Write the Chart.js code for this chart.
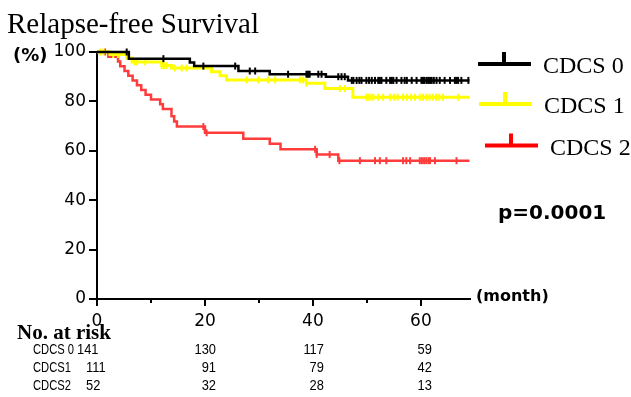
<!DOCTYPE html>
<html><head><meta charset="utf-8">
<script src="https://cdn.jsdelivr.net/npm/chart.js@4/dist/chart.umd.min.js"></script>
<style>html,body{margin:0;padding:0;background:#fff;overflow:hidden}#wrap{width:631px;height:397px;position:relative}</style>
</head><body><div id="wrap"><canvas id="c" width="631" height="397"></canvas></div>
<script>
// ---- data ----
const seriesNames = ['CDCS 0', 'CDCS 1', 'CDCS 2'];
const xTickValues = [0, 20, 40, 60];
const yTickValues = [0, 20, 40, 60, 80, 100];

// Kaplan-Meier step vertices (month, % surviving after event)
const cdcs0Times = [0, 5.9, 17.2, 18.0, 26.2, 32.0, 42.4, 46.5, 69];
const cdcs0Surv  = [100, 97.3, 95.7, 94.3, 92.3, 91.0, 90.0, 88.5, 88.5];
const cdcs1Times = [0, 2.4, 5.5, 6.5, 12.0, 13.8, 21.2, 22.8, 24.0, 38.8, 42.2, 47.4, 69];
const cdcs1Surv  = [100, 99.0, 97.6, 96.0, 94.5, 93.5, 92.0, 90.4, 88.7, 87.3, 85.2, 81.7, 81.7];
const cdcs2Times = [0, 2.1, 3.9, 4.3, 5.1, 5.8, 6.6, 7.4, 8.2, 9.0, 10.0, 11.7, 12.2, 13.8, 14.3, 14.8, 20.0, 27.1, 32.0, 34.0, 40.7, 44.7, 69];
const cdcs2Surv  = [100, 98.1, 96.2, 94.2, 92.3, 90.4, 88.5, 86.5, 84.6, 82.7, 80.8, 78.8, 76.9, 74.0, 71.9, 69.8, 67.3, 64.9, 62.9, 60.6, 58.5, 56.0, 56.0];

// censored observation times (months)
const cdcs0Censor = [5.5, 12.3, 19.7, 25.6, 28.3, 29.3, 35.4, 38.8, 39.1, 39.4, 41.0, 41.6, 44.7, 45.3, 45.9, 47.2, 47.5, 48.1, 48.6, 49.0, 49.9, 50.4, 50.9, 51.5, 52.1, 52.4, 52.7, 53.6, 54.3, 54.6, 54.9, 55.5, 56.4, 57.0, 57.4, 58.3, 59.2, 60.1, 60.4, 60.7, 61.1, 61.4, 61.7, 62.0, 62.4, 62.9, 63.5, 64.4, 65.4, 66.3, 66.6, 66.9, 67.5, 68.8];
const cdcs1Censor = [0.6, 1.2, 3.0, 3.9, 7.0, 7.4, 8.9, 12.0, 12.4, 12.9, 14.4, 15.7, 16.6, 27.7, 29.9, 31.7, 33.0, 37.6, 38.2, 38.8, 45.0, 45.9, 49.9, 50.3, 50.8, 51.2, 52.1, 53.0, 54.3, 55.0, 55.7, 56.7, 57.4, 58.2, 58.9, 59.8, 60.4, 61.0, 61.6, 62.2, 62.8, 63.4, 64.1, 66.9];
const cdcs2Censor = [1.5, 19.7, 20.3, 40.4, 40.7, 43.1, 44.9, 48.7, 51.5, 52.4, 53.6, 56.7, 57.3, 58.0, 59.8, 60.2, 60.6, 61.0, 61.4, 61.7, 62.6, 66.6];

// numbers at risk
const riskRowLabels = ['CDCS 0', 'CDCS1', 'CDCS2'];
const riskTimes = [0, 20, 40, 60];
const riskCDCS0 = [141, 130, 117, 59];
const riskCDCS1 = [111, 91, 79, 42];
const riskCDCS2 = [52, 32, 28, 13];
const pValueText = 'p=0.0001';

// ---- helpers ----
const colors = ['#000000', '#ffff00', '#ff3c3c'];
const legendColors = ['#000000', '#ffff00', '#ff0000'];
function stepPts(ts, ss) { return ts.map((t, i) => ({x: t, y: ss[i]})); }
function survAt(ts, ss, t) { let s = ss[0]; for (let i = 0; i < ts.length; i++) { if (ts[i] <= t) s = ss[i]; } return s; }
function censorPts(cs, ts, ss) { return cs.map(t => ({x: t, y: survAt(ts, ss, t)})); }

const curves = [
  [cdcs0Times, cdcs0Surv, cdcs0Censor],
  [cdcs1Times, cdcs1Surv, cdcs1Censor],
  [cdcs2Times, cdcs2Surv, cdcs2Censor]
];
const lineWidths = [2.5, 3, 2.5];
const datasets = [];
curves.forEach((c, i) => {
  datasets.push({
    label: seriesNames[i], data: stepPts(c[0], c[1]), stepped: 'before',
    borderColor: colors[i], borderWidth: lineWidths[i], pointRadius: 0, fill: false, clip: false, order: i
  });
  datasets.push({
    label: seriesNames[i] + ' censored', data: censorPts(c[2], c[0], c[1]), showLine: false,
    pointStyle: 'line', rotation: 90, pointRadius: 3.5, borderColor: colors[i], borderWidth: 2,
    backgroundColor: colors[i], clip: false, order: i
  });
});

function narrowText(ctx, txt, x, y, align, sx) {
  ctx.save();
  ctx.translate(x, y);
  ctx.scale(sx, 1);
  ctx.textAlign = align;
  ctx.fillText(txt, 0, 0);
  ctx.restore();
}

const textPlugin = {
  id: 'texts',
  afterDraw(chart) {
    const ctx = chart.ctx;
    const xs = chart.scales.x;
    const base = chart.chartArea.bottom;
    ctx.save();
    // minor x ticks
    ctx.strokeStyle = '#000'; ctx.lineWidth = 2;
    [10, 30, 50].forEach(v => {
      const px = Math.round(xs.getPixelForValue(v));
      ctx.beginPath(); ctx.moveTo(px, base); ctx.lineTo(px, base + 4); ctx.stroke();
    });
    ctx.fillStyle = '#000';
    ctx.textBaseline = 'alphabetic';
    // title
    ctx.font = '29px "Liberation Serif", "Times New Roman", serif';
    ctx.textAlign = 'left';
    ctx.fillText('Relapse-free Survival', 7, 33);
    // axis units
    ctx.font = 'bold 18px "DejaVu Sans", sans-serif';
    ctx.textBaseline = 'middle';
    ctx.fillText('(%)', 13, 56);
    ctx.font = 'bold 16px "DejaVu Sans", sans-serif';
    ctx.fillText('(month)', 476, 297);
    // legend
    const legY = [64, 104, 145.5];
    const legX0 = [478, 479, 485];
    legY.forEach((y, i) => {
      ctx.strokeStyle = legendColors[i];
      ctx.lineWidth = 4;
      ctx.beginPath(); ctx.moveTo(legX0[i], y); ctx.lineTo(legX0[i] + 53, y); ctx.stroke();
      ctx.beginPath(); ctx.moveTo(legX0[i] + 26, y); ctx.lineTo(legX0[i] + 26, y - 12); ctx.stroke();
      ctx.font = '24px "Liberation Serif", "Times New Roman", serif';
      ctx.fillStyle = '#000';
      ctx.textBaseline = 'middle';
      ctx.fillText(seriesNames[i], legX0[i] + 65, y + 3);
    });
    // p value
    ctx.font = 'bold 20px "DejaVu Sans", sans-serif';
    ctx.textBaseline = 'middle';
    ctx.fillText(pValueText, 498, 214);
    // numbers at risk
    ctx.font = 'bold 21px "Liberation Serif", "Times New Roman", serif';
    ctx.textBaseline = 'alphabetic';
    ctx.fillText('No. at risk', 17, 339);
    const rows = [riskCDCS0, riskCDCS1, riskCDCS2];
    const rowY = [350, 368, 386];
    const firstX = [77, 86, 86];
    ctx.font = '14px "Liberation Sans", "DejaVu Sans", sans-serif';
    ctx.textBaseline = 'middle';
    rows.forEach((r, i) => {
      narrowText(ctx, riskRowLabels[i], 33, rowY[i], 'left', 0.8);
      narrowText(ctx, String(r[0]), firstX[i], rowY[i], 'left', 0.92);
      for (let k = 1; k < riskTimes.length; k++) {
        narrowText(ctx, String(r[k]), xs.getPixelForValue(riskTimes[k]) + 11, rowY[i], 'right', 0.92);
      }
    });
    ctx.restore();
  }
};

new Chart(document.getElementById('c'), {
  type: 'line',
  data: {datasets},
  options: {
    responsive: false, animation: false, devicePixelRatio: 1,
    layout: {padding: {top: 52, right: 161, left: 0, bottom: 0}},
    plugins: {legend: {display: false}, tooltip: {enabled: false}, title: {display: false}},
    scales: {
      x: {
        type: 'linear', min: 0, max: 69.1,
        border: {display: true, color: '#000', width: 2},
        grid: {display: true, drawOnChartArea: false, drawTicks: true, tickLength: 7, color: '#000', lineWidth: 2},
        ticks: {stepSize: 20, includeBounds: false, color: '#000', padding: 5, maxRotation: 0,
                font: {family: '"DejaVu Sans", sans-serif', size: 17}},
        afterBuildTicks: s => { s.ticks = xTickValues.map(v => ({value: v})); },
        afterFit: s => { s.height = 98; }
      },
      y: {
        type: 'linear', min: 0, max: 100,
        border: {display: true, color: '#000', width: 2},
        grid: {display: true, drawOnChartArea: false, drawTicks: true, tickLength: 8, color: '#000', lineWidth: 2},
        ticks: {stepSize: 20, color: '#000', padding: 3,
                font: {family: '"DejaVu Sans", sans-serif', size: 17}},
        afterBuildTicks: s => { s.ticks = yTickValues.map(v => ({value: v})); },
        afterFit: s => { s.width = 97; }
      }
    }
  },
  plugins: [textPlugin]
});
</script>
</body></html>
